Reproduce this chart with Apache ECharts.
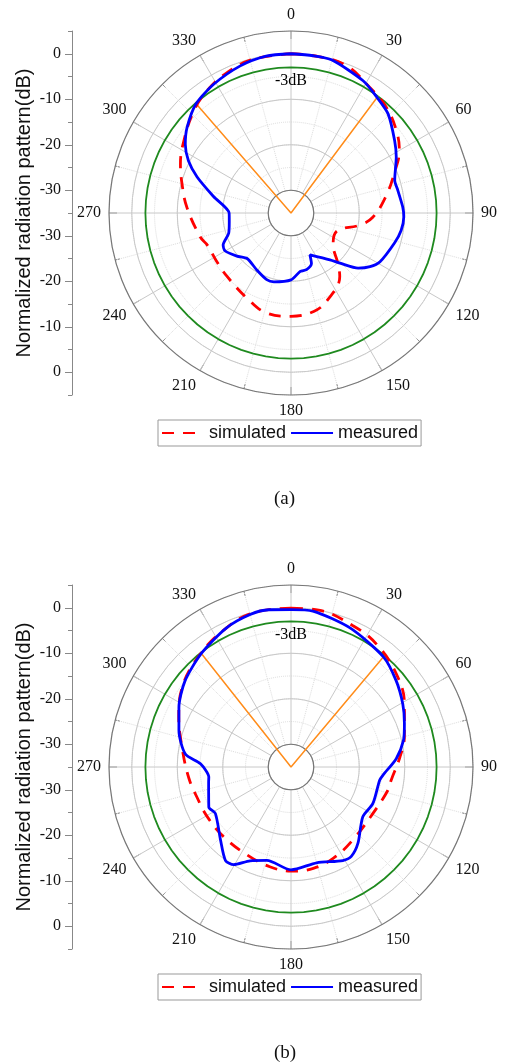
<!DOCTYPE html>
<html>
<head>
<meta charset="utf-8">
<script src="https://cdn.jsdelivr.net/npm/echarts@6/dist/echarts.min.js"></script>
<style>
  html, body { margin: 0; padding: 0; background: #fff; }
  #main { width: 506px; height: 1064px; }
</style>
</head>
<body>
<div id="main"></div>
<script>
(function(){

  // (a) angle in degrees, level in dB
  var aSimAng = [0, 10, 20.6, 32, 42, 52, 60, 69, 80, 93, 100, 112, 127, 137, 142.5, 157, 167, 180, 194, 207, 225, 237, 249, 255, 273, 285, 294, 304, 316.5, 325.5, 335.5, 346, 360];
  var aSimDb  = [0, -0.1, -0.4, -2.4, -3.7, -5.6, -7.5, -10.7, -13.8, -17, -19.7, -24.2, -23.4, -19.9, -17.4, -14.3, -12.8, -12.3, -12.4, -13.9, -15.2, -15.5, -15.3, -14.4, -12.1, -10.2, -8.4, -6.6, -4, -2.4, -1.1, -0.2, 0];
  var aMeaAng = [0, 8, 15, 28.6, 36.5, 44.4, 55, 62, 72.5, 78, 87, 92, 99, 106, 118.7, 124.2, 129.4, 135.7, 140.3, 155.7, 158, 164.6, 171, 180, 194, 200, 211, 224, 231.5, 240, 244.7, 252, 262, 270, 282, 291, 297, 303, 309.5, 319, 329, 341, 351, 360];
  var aMeaDb  = [0, -0.1, -0.2, -1.9, -3.3, -4.5, -7.2, -8.8, -11.1, -11, -10.4, -10.2, -10.5, -11.3, -12.7, -14, -15.9, -19.6, -21.6, -24.9, -23, -22.1, -22, -20.3, -19.4, -19.4, -20.4, -21.1, -19.8, -18.3, -18.5, -20.6, -21.3, -21.4, -17.6, -12.9, -9.7, -7.3, -5.4, -3.2, -2, -0.8, -0.1, 0];

  // (b)
  var bSimAng = [0, 10, 23.7, 34.8, 48.5, 61, 75, 85, 97.5, 103.5, 119.5, 139.6, 155, 167.6, 180, 192, 206.6, 224, 239, 252, 264, 280, 294, 306, 321, 335, 346.5, 360];
  var bSimDb  = [-0.1, 0, -1.1, -2.1, -4.1, -6.5, -9.2, -11, -12.8, -13.1, -14.3, -14, -12.9, -12.2, -12.1, -12.6, -13.4, -13.7, -13.6, -13.3, -12.4, -10.7, -8, -5.4, -3.2, -1.3, -0.1, -0.1];
  var bMeaAng = [0, 8, 23, 40, 50.6, 60.6, 69, 76.7, 85.5, 95, 98.5, 114, 124.7, 138.7, 146, 151, 165, 180, 194.5, 203.6, 210.4, 215, 224, 238.5, 244, 259.7, 263, 272, 277, 288, 298, 309, 321.7, 335, 345, 352, 360];
  var bMeaDb  = [-0.4, -0.4, -1.8, -3.4, -5.1, -6.8, -8.3, -9.6, -11.8, -14.7, -15.3, -15.3, -15.8, -12.7, -11.3, -11.5, -13.2, -12.4, -13.8, -12.5, -10.1, -9.9, -12.7, -15.5, -14.9, -16.6, -16.8, -15.1, -11.6, -9.1, -7.1, -5, -3.2, -1.3, -0.3, -0.1, -0.4];

  // half-power beam edges (deg) for each panel
  var aBeam = [319, 36.7];
  var bBeam = [321.7, 40];

  var halfPower = -3;
  var refAngles = [];
  for (var t = 0; t <= 360; t += 5) refAngles.push(t);

  var SERIF = 'Liberation Serif';
  var SANS = 'Liberation Sans';
  var R = 182, U = R / 40;
  var centers = [[291, 213], [291, 767]];
  var panels = [
    { sa: aSimAng, sd: aSimDb, ma: aMeaAng, md: aMeaDb, beam: aBeam, cap: '(a)' },
    { sa: bSimAng, sd: bSimDb, ma: bMeaAng, md: bMeaDb, beam: bBeam, cap: '(b)' }
  ];

  function zip(ang, db) {
    return ang.map(function (a, i) { return [db[i], a]; });
  }

  var option = {
    animation: false,
    backgroundColor: '#fff',
    polar: [], angleAxis: [], radiusAxis: [],
    grid: [], xAxis: [], yAxis: [],
    legend: [], title: [], series: []
  };

  panels.forEach(function (p, k) {
    var c = centers[k];
    var pa = 3 * k, pb = 3 * k + 1, pc = 3 * k + 2;

    option.polar.push({ center: c, radius: [5 * U, 40 * U] });
    option.polar.push({ center: c, radius: [5 * U, 35 * U] });
    option.polar.push({ center: c, radius: [0, 40 * U] });

    option.angleAxis.push({
      polarIndex: pa, type: 'value', min: 0, max: 360, interval: 30,
      startAngle: 90, clockwise: true,
      axisLine: { lineStyle: { color: '#777', width: 1.2 } },
      axisTick: { inside: true, length: 8, lineStyle: { color: '#777' } },
      minorTick: { show: true, splitNumber: 2, length: 5, lineStyle: { color: '#777' } },
      axisLabel: {
        margin: 8, fontFamily: SERIF, fontSize: 16, color: '#111',
        formatter: function (v) { return v === 360 ? '' : String(v); }
      },
      splitLine: { lineStyle: { color: '#c8c8c8' } },
      minorSplitLine: { show: true, lineStyle: { color: '#dcdcdc', type: 'dotted' } }
    });
    option.angleAxis.push({ polarIndex: pb, type: 'value', min: 0, max: 360, show: false });
    option.angleAxis.push({ polarIndex: pc, type: 'value', min: 0, max: 360, startAngle: 90, clockwise: true, show: false });

    option.radiusAxis.push({
      polarIndex: pa, type: 'value', min: -30, max: 5, interval: 5,
      axisLine: { show: false }, axisTick: { show: false }, axisLabel: { show: false },
      splitLine: { lineStyle: { color: '#dcdcdc', type: 'dotted' } }
    });
    option.radiusAxis.push({
      polarIndex: pb, type: 'value', min: -30, max: 0, interval: 10,
      axisLine: { show: false }, axisTick: { show: false }, axisLabel: { show: false },
      splitLine: { lineStyle: { color: '#c8c8c8' } }
    });
    option.radiusAxis.push({ polarIndex: pc, type: 'value', min: -35, max: 5, show: false });

    // left mirrored dB scale
    var g1 = 2 * k, g2 = 2 * k + 1;
    option.grid.push({ left: 72, width: 10, top: c[1] - 40 * U, height: 80 * U });
    option.grid.push({ left: 72, width: 10, top: c[1] - 35 * U, height: 70 * U });
    option.xAxis.push({ gridIndex: g1, type: 'value', show: false });
    option.xAxis.push({ gridIndex: g2, type: 'value', show: false });
    option.yAxis.push({
      gridIndex: g1, type: 'value', min: -40, max: 40, interval: 5,
      axisLine: { show: true, lineStyle: { color: '#888' } },
      axisTick: { show: true, length: 4, lineStyle: { color: '#888' } },
      axisLabel: { show: false }, splitLine: { show: false },
      name: 'Normalized radiation pattern(dB)', nameLocation: 'middle', nameGap: 38,
      nameTextStyle: { fontFamily: SANS, fontSize: 20, color: '#111' }
    });
    option.yAxis.push({
      gridIndex: g2, type: 'value', min: -35, max: 35, interval: 10,
      axisLine: { show: false },
      axisTick: { show: true, length: 7, lineStyle: { color: '#888' } },
      axisLabel: {
        margin: 11, fontFamily: SERIF, fontSize: 16, color: '#111',
        formatter: function (v) { return String(Math.abs(v) - 35); }
      },
      splitLine: { show: false }
    });

    option.series.push({
      type: 'line', coordinateSystem: 'polar', polarIndex: pa, silent: true,
      data: refAngles.map(function (a) { return [halfPower, a]; }),
      symbol: 'none', lineStyle: { color: '#1f8a1f', width: 1.8 }
    });
    option.series.push({
      type: 'line', coordinateSystem: 'polar', polarIndex: pc, silent: true, clip: false,
      data: [[halfPower, p.beam[0]], [-35, 0], [halfPower, p.beam[1]]],
      symbol: 'none', lineStyle: { color: '#ff8c1a', width: 1.5 }
    });
    option.series.push({
      type: 'scatter', coordinateSystem: 'polar', polarIndex: pa, silent: true,
      data: [[halfPower, 0]], symbolSize: 1,
      itemStyle: { color: 'rgba(0,0,0,0)', opacity: 1 },
      label: { show: true, position: 'bottom', distance: 5, formatter: '-3dB',
               fontFamily: SERIF, fontSize: 16, color: '#000', opacity: 1 }
    });
    option.series.push({
      name: 'simulated', type: 'line', coordinateSystem: 'polar', polarIndex: pa,
      data: zip(p.sa, p.sd), symbol: 'none', smooth: 0.4, z: 4,
      itemStyle: { color: '#ff0000' },
      lineStyle: { color: '#ff0000', width: 2.8, type: [12, 9] }
    });
    option.series.push({
      name: 'measured', type: 'line', coordinateSystem: 'polar', polarIndex: pa,
      data: zip(p.ma, p.md), symbol: 'none', smooth: 0.25, z: 5,
      itemStyle: { color: '#0000ff' },
      lineStyle: { color: '#0000ff', width: 2.8 }
    });

    option.legend.push({
      data: ['simulated', 'measured'], left: 158, top: c[1] + 207,
      orient: 'horizontal', itemWidth: 42, itemHeight: 14, itemGap: 4,
      padding: [4, 3, 4, 3], borderColor: '#999', borderWidth: 1,
      itemStyle: { opacity: 0, borderWidth: 0 },
      textStyle: { fontFamily: SANS, fontSize: 18, color: '#111' }
    });
    option.title.push({
      text: p.cap, left: 269, top: c[1] + 272,
      textStyle: { fontFamily: SERIF, fontSize: 19, fontWeight: 'normal', color: '#111' }
    });
  });

  var myChart = echarts.init(document.getElementById('main'));
  myChart.setOption(option);

})();
</script>
</body>
</html>
